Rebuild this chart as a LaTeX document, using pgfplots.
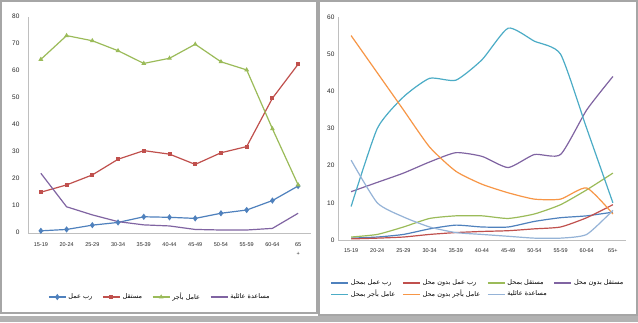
\documentclass[border=0pt]{standalone}
\usepackage{pgfplots}
\pgfplotsset{compat=1.18}
\usepackage{fontspec}
\setmainfont{Liberation Sans}
\newfontfamily\arabicfont[Script=Arabic]{DejaVu Sans}
\TeXXeTstate=1
\newcommand{\ar}[1]{{\arabicfont\beginR #1\endR}}
\definecolor{xblue}{HTML}{4F81BD}
\definecolor{xred}{HTML}{C0504D}
\definecolor{xgreen}{HTML}{9BBB59}
\definecolor{xpurple}{HTML}{8064A2}
\definecolor{xaqua}{HTML}{4BACC6}
\definecolor{xorange}{HTML}{F79646}
\definecolor{xlblue}{HTML}{95B3D7}
\begin{document}
\begin{tikzpicture}
\useasboundingbox (0pt,0pt) rectangle (638pt,322pt);
\fill[white] (0pt,0pt) rectangle (638pt,322pt);
\draw[gray!70,line width=1.5pt] (1pt,9pt) rectangle (317pt,321pt);
\draw[gray!70,line width=1.5pt] (319pt,7pt) rectangle (637pt,321pt);
\fill[gray!60] (0pt,0pt) rectangle (638pt,6pt);
\pgfplotsset{
  myax/.style={
    scale only axis,
    anchor=south west,
    xmin=0.5, xmax=11.5, ymin=0,
    xtick={1,...,11},
    axis x line*=bottom, axis y line*=left,
    axis line style={gray!50},
    tick style={draw=none},
    ticklabel style={font=\fontsize{6.5}{7}\selectfont, text=black!85},
    /pgf/number format/assume math mode=true,
    legend cell align=left,
    legend style={draw=none, fill=none, font=\fontsize{6.5}{8}\selectfont, /tikz/every even column/.append style={column sep=8pt}},
    every axis plot/.append style={line width=1.2pt},
  }
}
\begin{axis}[myax,
  at={(28pt,89.3pt)}, width=283pt, height=216pt, ymax=80,
  ytick={0,10,...,80},
  yticklabel style={xshift=-5pt},
  xticklabels={15-19,20-24,25-29,30-34,35-39,40-44,45-49,50-54,55-59,60-64,{65\\+}},
  xticklabel style={align=center, yshift=-6pt, font=\fontsize{5.5}{9}\selectfont},
  legend columns=4,
  legend style={at={(0.466,-0.298)}, anchor=center},
]
\addplot[xblue, mark=diamond*, mark size=2.2pt] coordinates {(1,0.7)(2,1.2)(3,2.8)(4,3.8)(5,5.9)(6,5.7)(7,5.3)(8,7.2)(9,8.4)(10,11.9)(11,17.3)};
\addlegendentry{\ar{رب عمل}}
\addplot[xred, mark=square*, mark size=1.4pt] coordinates {(1,15)(2,17.7)(3,21.4)(4,27.2)(5,30.4)(6,29.1)(7,25.3)(8,29.6)(9,31.9)(10,49.8)(11,62.4)};
\addlegendentry{\ar{مستقل}}
\addplot[xgreen, mark=triangle*, mark size=1.6pt] coordinates {(1,64.2)(2,73)(3,71.1)(4,67.4)(5,62.7)(6,64.6)(7,69.8)(8,63.3)(9,60.3)(10,38.5)(11,17.7)};
\addlegendentry{\ar{عامل بأجر}}
\addplot[xpurple, mark=none] coordinates {(1,22)(2,9.6)(3,6.6)(4,4.1)(5,2.9)(6,2.5)(7,1.2)(8,1)(9,1)(10,1.6)(11,7.2)};
\addlegendentry{\ar{مساعدة عائلية}}
\end{axis}
\begin{axis}[myax,
  at={(338pt,82pt)}, width=288pt, height=223pt, ymax=60,
  ytick={0,10,...,60},
  xticklabels={15-19,20-24,25-29,30-34,35-39,40-44,45-49,50-54,55-59,60-64,65+},
  xticklabel style={yshift=-5pt, font=\fontsize{5.5}{7}\selectfont},
  legend columns=4,
  legend style={at={(0.486,-0.22)}, anchor=center, /tikz/every even column/.append style={column sep=5pt}},
  every axis plot/.append style={mark=none, smooth, tension=0.35},
]
\addplot[xblue] coordinates {(1,0.5)(2,0.8)(3,1.5)(4,3)(5,4)(6,3.5)(7,3.5)(8,5)(9,6)(10,6.5)(11,7.5)};
\addlegendentry{\ar{رب عمل بمحل}}
\addplot[xred] coordinates {(1,0.3)(2,0.5)(3,0.8)(4,1.5)(5,2)(6,2.3)(7,2.5)(8,3)(9,3.5)(10,6)(11,9.5)};
\addlegendentry{\ar{رب عمل بدون محل}}
\addplot[xgreen] coordinates {(1,0.8)(2,1.5)(3,3.5)(4,5.8)(5,6.5)(6,6.5)(7,5.8)(8,7)(9,9.5)(10,13.5)(11,18)};
\addlegendentry{\ar{مستقل بمحل}}
\addplot[xpurple] coordinates {(1,13)(2,15.5)(3,18)(4,21)(5,23.5)(6,22.5)(7,19.5)(8,23)(9,23)(10,35)(11,44)};
\addlegendentry{\ar{مستقل بدون محل}}
\addplot[xaqua] coordinates {(1,9)(2,30)(3,38.5)(4,43.5)(5,43)(6,48.5)(7,57)(8,53.5)(9,50)(10,30)(11,10)};
\addlegendentry{\ar{عامل بأجر بمحل}}
\addplot[xorange] coordinates {(1,55)(2,45)(3,35)(4,25)(5,18.5)(6,15)(7,12.7)(8,11)(9,11)(10,14)(11,7)};
\addlegendentry{\ar{عامل بأجر بدون محل}}
\addplot[xlblue] coordinates {(1,21.5)(2,10)(3,6.2)(4,3.5)(5,2)(6,1.5)(7,1)(8,0.5)(9,0.5)(10,1.5)(11,8)};
\addlegendentry{\ar{مساعدة عائلية}}
\end{axis}
\end{tikzpicture}
\end{document}
